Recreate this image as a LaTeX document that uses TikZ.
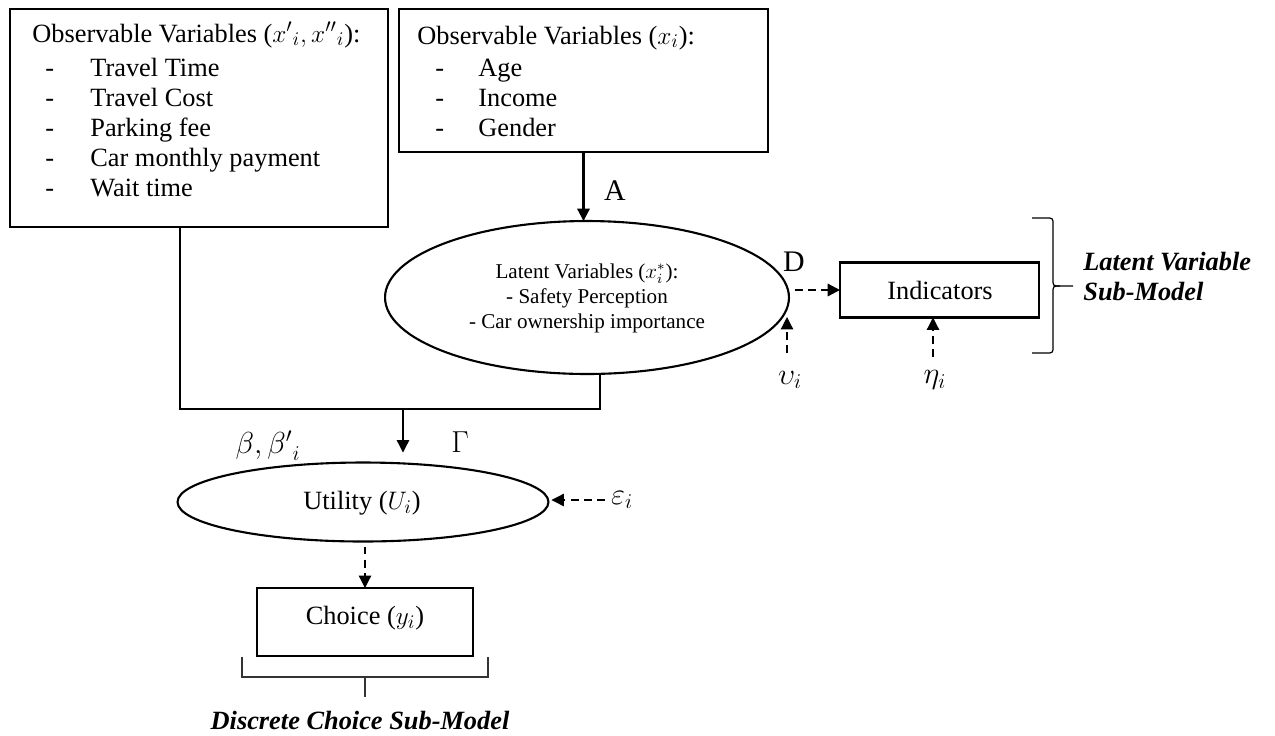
\documentclass[tikz,border=0pt]{standalone}
\usepackage{fontspec}
\setmainfont{Liberation Serif}
\usetikzlibrary{shapes.geometric,arrows.meta,calc}

\begin{document}
\begin{tikzpicture}[x=0.02cm,y=-0.02cm,
  txt/.style={font=\fontsize{15}{18}\selectfont, inner sep=0pt},
  greek/.style={font=\fontsize{18.5}{22}\selectfont, inner sep=0pt},
  small/.style={font=\fontsize{12}{14.2}\selectfont, inner sep=0pt, align=center},
  title/.style={font=\fontsize{15}{18}\selectfont\bfseries\itshape, inner sep=0pt},
  boxnode/.style={draw, line width=1.2pt, inner sep=0pt, outer sep=0pt},
  ellnode/.style={draw, ellipse, line width=1.2pt, inner sep=0pt, outer sep=0pt},
  tip/.style={-{Triangle[length=7pt,width=7pt]}},
  dsh/.style={dash pattern=on 4.5pt off 3pt},
  link/.style={line width=1.2pt},
  thinlink/.style={line width=0.7pt},
]
\useasboundingbox (0,0) rectangle (1275,735);

% --- boxes and ellipses ---
\node[boxnode, minimum width=7.56cm, minimum height=4.36cm] (obs1) at (199,118) {};
\node[boxnode, minimum width=7.38cm, minimum height=2.86cm] (obs2) at (583.5,80.5) {};
\node[ellnode, minimum width=8.08cm, minimum height=3.06cm] (latent) at (587,297.5) {};
\node[boxnode, minimum width=3.98cm, minimum height=1.10cm] (ind) at (939.5,290) {};
\node[ellnode, minimum width=7.42cm, minimum height=1.58cm] (util) at (363,502) {};
\node[boxnode, minimum width=4.32cm, minimum height=1.36cm] (choice) at (365,622) {};

% --- box texts ---
\node[txt, anchor=base west] (obs1title) at (32,42) {Observable Variables (${x'}_i, {x''}_i$):};
\foreach \yy/\tt [count=\k] in {76/Travel Time, 106/Travel Cost, 136/Parking fee, 166/Car monthly payment, 196/Wait time}{
  \node[txt, anchor=base west] (obs1dash\k) at (45,\yy) {-};
  \node[txt, anchor=base west] (obs1item\k) at (90,\yy) {\tt};
}
\node[txt, anchor=base west] (obs2title) at (417,44) {Observable Variables ($x_i$):};
\foreach \yy/\tt [count=\k] in {76/Age, 106/Income, 136/Gender}{
  \node[txt, anchor=base west] (obs2dash\k) at (435,\yy) {-};
  \node[txt, anchor=base west] (obs2item\k) at (478,\yy) {\tt};
}
\node[small] (lattext) at (587,298) {Latent Variables ($x_i^*$):\\- Safety Perception\\- Car ownership importance};
\node[txt] (indtext) at (940,290) {Indicators};
\node[txt] (utiltext) at (362,503) {Utility ($U_i$)};
\node[txt] (choicetext) at (365,618) {Choice ($y_i$)};

% --- labels ---
\node[txt, font=\fontsize{17}{20}\selectfont] (lblA) at (615,191) {A};
\node[txt, font=\fontsize{17}{20}\selectfont] (lblD) at (794,262) {D};
\node[greek] (lblbeta) at (268,446) {$\beta, {\beta'}_i$};
\node[greek] (lblGamma) at (460,442) {$\Gamma$};
\node[greek] (lbleps) at (622,500) {$\varepsilon_i$};
\node[greek] (lblups) at (790,380) {$\upsilon_i$};
\node[greek] (lbleta) at (935,380) {$\eta_i$};

% --- connectors ---
\draw[link, tip] (obs2.south) -- (obs2.south |- latent.north);

\coordinate (join) at (403,409);
\draw[link] ($(obs1.south west)+(170,0)$) |- (join);
\draw[link] ($(latent.south)+(13,0)$) |- (join);
\draw[thinlink, tip, shorten >=0.2cm] (join) -- (join |- util.north);

\draw[link, dsh, tip] ($(latent.east |- ind.west)+(6,0)$) -- (ind.west);

\coordinate (upbase) at (787,353);
\coordinate (uptip) at (787,317);
\draw[thinlink, dsh, tip] (upbase) -- (uptip);

\coordinate (etabase) at (933,357);
\draw[thinlink, dsh, tip] (etabase) -- (etabase |- ind.south);

\coordinate (epsbase) at (605,500);
\draw[thinlink, dsh, tip, shorten >=0.06cm] (epsbase) -- (epsbase -| util.east);

\draw[thinlink, dsh, tip, shorten <=0.1cm] (util.south -| choice.north) -- (choice.north);

% --- sub-model brackets ---
\draw[line width=0.7pt] (1032,218) -- (1046,218) .. controls (1053,218) .. (1053,225)
  -- (1053,279) .. controls (1053,286) .. (1060,286) -- (1073,286);
\draw[line width=0.7pt] (1060,286) .. controls (1053,286) .. (1053,293)
  -- (1053,346) .. controls (1053,353) .. (1046,353) -- (1032,353);
\node[title, anchor=west] (lvtitle1) at (1083,262) {Latent Variable};
\node[title, anchor=west] (lvtitle2) at (1083,292) {Sub-Model};

\draw[line width=0.7pt, black!80] (242,657) -- (242,677) -- (488,677) -- (488,657);
\coordinate (stemtop) at (365,677);
\coordinate (stembot) at (365,697);
\draw[line width=0.7pt, black!80] (stemtop) -- (stembot);
\node[title] (dctitle) at (360,720) {Discrete Choice Sub-Model};
\end{tikzpicture}
\end{document}
